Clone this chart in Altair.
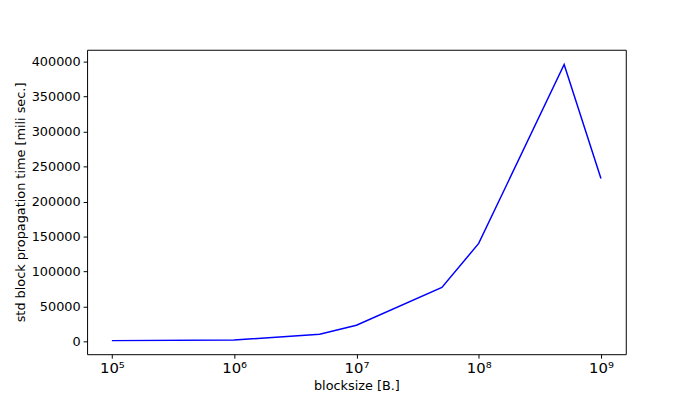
import altair as alt
import pandas as pd

blocksize = [1e5, 1e6, 5e6, 1e7, 5e7, 1e8, 5e8, 1e9]
std_time = [1000, 2000, 10000, 23000, 77000, 140000, 396000, 233000]

df = pd.DataFrame({"x": blocksize, "y": std_time})

chart = alt.Chart(df).mark_line(color="blue", strokeWidth=1.5, clip=True).encode(
    x=alt.X("x:Q", scale=alt.Scale(type="log", domain=[10**4.797, 10**9.203], nice=False),
            axis=alt.Axis(title="blocksize [B.]", values=[1e5, 1e6, 1e7, 1e8, 1e9],
                          labelExpr="['10⁵','10⁶','10⁷','10⁸','10⁹'][round(log(datum.value)/LN10)-5]",
                          labelFontSize=15, grid=False)),
    y=alt.Y("y:Q", scale=alt.Scale(domain=[-18400, 417000], nice=False, zero=False),
            axis=alt.Axis(title="std block propagation time [mili sec.]",
                          values=list(range(0, 400001, 50000)), format="d", grid=False)),
).properties(width=545, height=308, autosize="none",
             padding={"left": 80, "top": 40, "right": 67, "bottom": 36}
).configure_view(stroke="black", strokeWidth=1
).configure_axis(domain=False, tickColor="black", tickSize=4, labelColor="black",
                 labelFont="DejaVu Sans", titleFont="DejaVu Sans", labelFontSize=13,
                 titleFontSize=13, titleFontWeight="normal", titleColor="black", labelPadding=3)

chart.save("out.html", embed_options={"renderer": "svg", "actions": False})
